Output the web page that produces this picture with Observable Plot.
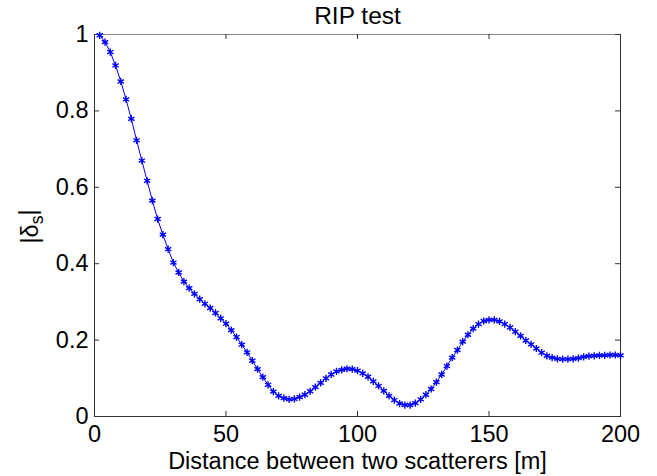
<!DOCTYPE html>
<html><head><meta charset="utf-8">
<script src="https://cdn.jsdelivr.net/npm/d3@7"></script>
<script src="https://cdn.jsdelivr.net/npm/@observablehq/plot@0.6"></script>
<style>body{margin:0;background:#fff;} svg{display:block}</style>
</head><body><div id="chart"></div>
<script>
const distance = [2,4,6,8,10,12,14,16,18,20,22,24,26,28,30,32,34,36,38,40,42,44,46,48,50,52,54,56,58,60,62,64,66,68,70,72,74,76,78,80,82,84,86,88,90,92,94,96,98,100,102,104,106,108,110,112,114,116,118,120,122,124,126,128,130,132,134,136,138,140,142,144,146,148,150,152,154,156,158,160,162,164,166,168,170,172,174,176,178,180,182,184,186,188,190,192,194,196,198,200];
const delta = [0.998,0.980,0.954,0.919,0.877,0.830,0.779,0.723,0.670,0.617,0.565,0.517,0.476,0.438,0.403,0.377,0.353,0.336,0.321,0.307,0.295,0.284,0.271,0.257,0.243,0.226,0.208,0.188,0.168,0.146,0.124,0.103,0.083,0.065,0.054,0.048,0.045,0.046,0.051,0.057,0.066,0.077,0.088,0.100,0.110,0.118,0.122,0.125,0.124,0.120,0.113,0.104,0.092,0.080,0.067,0.054,0.043,0.034,0.030,0.030,0.035,0.045,0.057,0.072,0.090,0.110,0.132,0.154,0.174,0.196,0.214,0.230,0.242,0.250,0.253,0.253,0.249,0.242,0.233,0.222,0.211,0.199,0.189,0.178,0.167,0.159,0.154,0.151,0.150,0.150,0.151,0.153,0.156,0.158,0.159,0.160,0.160,0.161,0.161,0.160];
const xTicks = [0,50,100,150,200];
const yTicks = [0,0.2,0.4,0.6,0.8,1];
const titleText = "RIP test";
const xLabel = "Distance between two scatterers [m]";
const yLabel = "|δs|";

const data = distance.map((d,i)=>({x:d, y:delta[i]}));
const W=657, H=476, mt=34, mb=60, ml=94, mr=37;
const fw=W-ml-mr, fh=H-mt-mb, tk=5;
const fs = 23.5;
const plot = Plot.plot({
  width:W, height:H, marginTop:mt, marginBottom:mb, marginLeft:ml, marginRight:mr,
  style:{fontFamily:"'Liberation Sans', Arial, sans-serif", fontSize:fs+"px", color:"#000", background:"#fff"},
  x:{domain:[0,200]}, y:{domain:[0,1]},
  marks:[
    Plot.frame({stroke:"#333", strokeWidth:1}),
    Plot.ruleY([d3.max(yTicks)], {stroke:"#888", strokeWidth:1.2}),
    Plot.tickX(xTicks, {x:d=>d, insetTop:fh-tk, stroke:"#333"}),
    Plot.tickX(xTicks, {x:d=>d, insetBottom:fh-tk, stroke:"#333"}),
    Plot.tickY(yTicks, {y:d=>d, insetRight:fw-tk, stroke:"#333"}),
    Plot.tickY(yTicks, {y:d=>d, insetLeft:fw-tk, stroke:"#333"}),
    Plot.axisX(xTicks, {tickSize:0, tickPadding:9, label:null, fontSize:fs, tickFormat:d=>String(d)}),
    Plot.axisY(yTicks, {tickSize:0, tickPadding:6, label:null, fontSize:fs, tickFormat:d=>String(d)}),
    Plot.line(data, {x:"x", y:"y", stroke:"#0000ff", strokeWidth:1}),
    Plot.dot(data, {x:"x", y:"y", symbol:"asterisk", r:3.4, stroke:"#0000ff", strokeWidth:1.4}),
    Plot.text([titleText], {text:d=>d, frameAnchor:"top", dy:-11, lineAnchor:"bottom", fontSize:fs+1}),
    Plot.text([xLabel], {text:d=>d, frameAnchor:"bottom", dy:36, lineAnchor:"top", fontSize:fs}),
    Plot.text([yLabel], {text:d=>d, frameAnchor:"left", dx:-64, dy:18, rotate:-90, lineAnchor:"middle", fontSize:fs})
  ]
});
document.getElementById("chart").appendChild(plot);
const yl = Array.from(plot.querySelectorAll("text")).find(t=>t.textContent===yLabel);
if (yl) {
  yl.textContent = "";
  const ns = "http://www.w3.org/2000/svg";
  const a = document.createElementNS(ns,"tspan"); a.textContent = "|δ";
  const b = document.createElementNS(ns,"tspan"); b.textContent = "s"; b.setAttribute("dy","0.3em"); b.setAttribute("font-size", (fs*0.75)+"px");
  const c = document.createElementNS(ns,"tspan"); c.textContent = "|"; c.setAttribute("dy","-0.3em");
  yl.append(a,b,c);
}
</script>
</body></html>
